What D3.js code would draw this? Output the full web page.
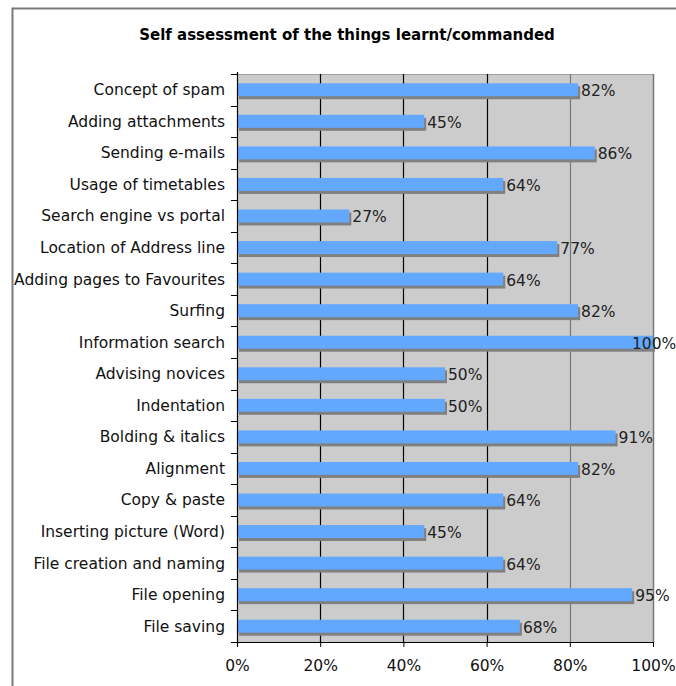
<!DOCTYPE html>
<html>
<head>
<meta charset="utf-8">
<script src="https://cdn.jsdelivr.net/npm/d3@7/dist/d3.min.js"></script>
<style>
  html, body { margin: 0; padding: 0; background: #fff; }
  svg { display: block; font-family: Verdana, "DejaVu Sans", sans-serif; }
</style>
</head>
<body>
<svg id="chart" width="676" height="686"></svg>
<script>
// ---- data (top to bottom) ----
const categories = [
  'Concept of spam', 'Adding attachments', 'Sending e-mails', 'Usage of timetables',
  'Search engine vs portal', 'Location of Address line', 'Adding pages to Favourites',
  'Surfing ', 'Information search', 'Advising novices', 'Indentation',
  'Bolding & italics', 'Alignment', 'Copy & paste', 'Inserting picture (Word)',
  'File creation and naming', 'File opening', 'File saving'
];
const values = [82, 45, 86, 64, 27, 77, 64, 82, 100, 50, 50, 91, 82, 64, 45, 64, 95, 68];
const tickValues = [0, 20, 40, 60, 80, 100];
const title = 'Self assessment of the things learnt/commanded';

const FS = 15.5;
const svg = d3.select('#chart');
const plot = { left: 237, right: 653, top: 74, bottom: 642 };

// outer chart frame (runs off right/bottom of the window)
svg.append('path')
  .attr('d', 'M12.5,700 V8.5 H690')
  .attr('fill', 'none').attr('stroke', '#7a7a7a').attr('stroke-width', 2);

svg.append('text')
  .attr('x', 347).attr('y', 40)
  .attr('text-anchor', 'middle')
  .attr('font-size', 15).attr('font-weight', 'bold')
  .attr('fill', '#000')
  .text(title);

const x = d3.scaleLinear().domain([0, 100]).range([plot.left, plot.right]);
const y = d3.scaleBand().domain(categories).range([plot.top, plot.bottom]).paddingInner(0.59).paddingOuter(0.295);

// plot background
svg.append('rect')
  .attr('x', plot.left).attr('y', plot.top)
  .attr('width', plot.right - plot.left).attr('height', plot.bottom - plot.top)
  .attr('fill', '#cccccc');

// top border
svg.append('line')
  .attr('x1', plot.left).attr('x2', plot.right)
  .attr('y1', plot.top + 0.5).attr('y2', plot.top + 0.5)
  .attr('stroke', '#a0a0a0');

// vertical gridlines
svg.append('g').selectAll('line')
  .data(tickValues.filter(d => d > 0))
  .enter().append('line')
  .attr('x1', d => Math.round(x(d)) + 0.5).attr('x2', d => Math.round(x(d)) + 0.5)
  .attr('y1', plot.top).attr('y2', plot.bottom)
  .attr('stroke', d => d === 20 || d === 40 || d === 60 ? '#000' : '#777')
  .attr('stroke-width', d => d === 100 ? 1.5 : 1.2);

// bars: grey drop shadow, then blue face
const bars = svg.append('g');
bars.selectAll('rect.shadow')
  .data(values).enter().append('rect')
  .attr('class', 'shadow')
  .attr('x', plot.left + 2)
  .attr('y', (d, i) => y(categories[i]) + 3)
  .attr('width', d => x(d) - plot.left)
  .attr('height', y.bandwidth())
  .attr('fill', '#808080');
bars.selectAll('rect.face')
  .data(values).enter().append('rect')
  .attr('class', 'face')
  .attr('x', plot.left)
  .attr('y', (d, i) => y(categories[i]))
  .attr('width', d => x(d) - plot.left)
  .attr('height', y.bandwidth())
  .attr('fill', '#62a8ff');

// value labels
svg.append('g').selectAll('text')
  .data(values).enter().append('text')
  .attr('x', d => d === 100 ? x(d) - 21 : x(d) + 3)
  .attr('y', (d, i) => y(categories[i]) + y.bandwidth() / 2 + 1)
  .attr('dy', '0.35em')
  .attr('font-size', FS).attr('fill', '#222')
  .text(d => d + '%');

// y axis
const yAxis = svg.append('g')
  .attr('transform', `translate(${plot.left},0)`);
yAxis.append('line')
  .attr('x1', 0.5).attr('x2', 0.5).attr('y1', plot.top - 2).attr('y2', plot.bottom + 4)
  .attr('stroke', '#000').attr('stroke-width', 1.2);
const bounds = categories.map(c => y(c) - y.step() * y.paddingInner() / 2).concat([plot.bottom]);
yAxis.selectAll('line.tick')
  .data(bounds).enter().append('line')
  .attr('class', 'tick')
  .attr('x1', -6).attr('x2', 0)
  .attr('y1', d => Math.round(d) + 0.5).attr('y2', d => Math.round(d) + 0.5)
  .attr('stroke', '#000');
yAxis.selectAll('text')
  .data(categories).enter().append('text')
  .attr('x', -12)
  .attr('y', c => y(c) + y.bandwidth() / 2)
  .attr('dy', '0.35em')
  .attr('text-anchor', 'end')
  .attr('font-size', FS).attr('fill', '#111')
  .text(c => c);

// x axis
const xAxis = d3.axisBottom(x)
  .tickValues(tickValues)
  .tickFormat(d => d + '%')
  .tickSize(5).tickSizeOuter(0).tickPadding(13);
const gx = svg.append('g')
  .attr('transform', `translate(0,${plot.bottom})`)
  .call(xAxis);
gx.select('.domain').attr('stroke', '#000').attr('stroke-width', 1.2);
gx.selectAll('.tick line').attr('stroke', '#000');
gx.selectAll('.tick text')
  .attr('font-size', FS).attr('fill', '#111')
  .attr('font-family', 'Verdana, "DejaVu Sans", sans-serif');
</script>
</body>
</html>
